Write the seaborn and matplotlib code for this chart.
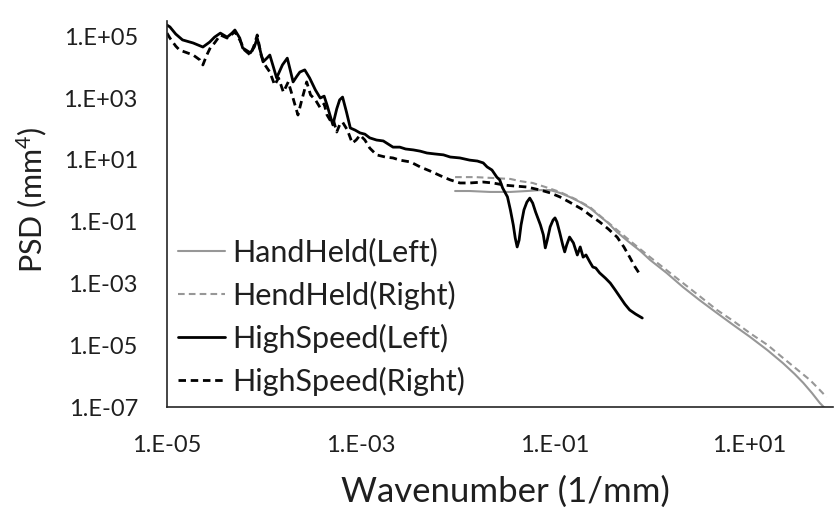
import numpy as np
import pandas as pd
import matplotlib
matplotlib.use("Agg")
import matplotlib.pyplot as plt
import seaborn as sns

# ---- data (log10 of wavenumber [1/mm] and log10 of PSD [mm^4]) ----
hs_left_logk = [-5.00, -4.97, -4.91, -4.84, -4.73, -4.63, -4.56, -4.51, -4.45, -4.38, -4.33, -4.30,
                -4.25, -4.22, -4.14, -4.10, -4.07, -4.04, -4.01, -3.97, -3.94, -3.90, -3.87, -3.81,
                -3.76, -3.73, -3.70, -3.66, -3.63, -3.58, -3.53, -3.47, -3.42, -3.38, -3.35, -3.32,
                -3.29, -3.25, -3.22, -3.19, -3.15, -3.11, -3.06, -3.01, -2.96, -2.91, -2.84, -2.77,
                -2.72, -2.67, -2.60, -2.54, -2.46, -2.39, -2.32, -2.24, -2.15, -2.08, -1.98, -1.88,
                -1.80, -1.74, -1.70, -1.65, -1.60, -1.57, -1.54, -1.49, -1.46, -1.43, -1.41, -1.39,
                -1.37, -1.35, -1.32, -1.29, -1.26, -1.23, -1.20, -1.15, -1.12, -1.10, -1.08, -1.05,
                -1.02, -1.00, -0.98, -0.95, -0.92, -0.90, -0.88, -0.85, -0.81, -0.77, -0.74, -0.71,
                -0.68, -0.64, -0.61, -0.58, -0.54, -0.48, -0.43, -0.38, -0.33, -0.28, -0.23, -0.17,
                -0.10]
hs_left_logpsd = [5.36, 5.30, 5.07, 4.88, 4.78, 4.65, 4.81, 4.97, 5.10, 4.97, 5.10, 5.20,
                  4.94, 4.62, 4.46, 4.65, 4.94, 4.55, 4.17, 4.29, 4.39, 3.97, 3.65, 4.07,
                  4.29, 3.91, 3.52, 3.71, 3.84, 3.91, 3.65, 3.26, 3.00, 3.06, 2.77, 2.45,
                  2.13, 2.65, 2.94, 3.03, 2.55, 2.03, 1.96, 1.87, 1.83, 1.71, 1.64, 1.61,
                  1.51, 1.41, 1.41, 1.35, 1.32, 1.28, 1.22, 1.19, 1.16, 1.09, 1.06, 0.99,
                  0.96, 0.90, 0.77, 0.67, 0.44, 0.35, 0.09, -0.20, -0.62, -1.11, -1.53, -1.82,
                  -1.60, -1.11, -0.62, -0.37, -0.24, -0.40, -0.69, -1.11, -1.43, -1.85, -1.60, -1.17,
                  -0.95, -0.88, -1.01, -1.37, -1.76, -1.98, -1.76, -1.50, -1.69, -2.08, -1.82, -2.15,
                  -2.08, -2.31, -2.47, -2.50, -2.66, -2.83, -2.99, -3.21, -3.44, -3.67, -3.86, -3.99,
                  -4.12]

hs_right_logk = [-5.00, -4.97, -4.91, -4.87, -4.79, -4.73, -4.66, -4.63, -4.59, -4.55, -4.51, -4.45,
                 -4.38, -4.30, -4.25, -4.20, -4.14, -4.10, -4.07, -4.03, -3.99, -3.94, -3.89, -3.85,
                 -3.80, -3.75, -3.71, -3.68, -3.65, -3.61, -3.56, -3.52, -3.47, -3.42, -3.38, -3.35,
                 -3.32, -3.29, -3.25, -3.22, -3.19, -3.14, -3.09, -3.05, -3.01, -2.96, -2.91, -2.84,
                 -2.75, -2.67, -2.60, -2.49, -2.39, -2.29, -2.15, -2.08, -1.98, -1.88, -1.74, -1.64,
                 -1.52, -1.41, -1.29, -1.15, -1.05, -0.95, -0.85, -0.71, -0.64, -0.54, -0.45, -0.36,
                 -0.29, -0.23, -0.18, -0.12]
hs_right_logpsd = [5.10, 4.94, 4.68, 4.55, 4.46, 4.39, 4.23, 4.07, 4.39, 4.65, 4.78, 5.04,
                   4.94, 5.14, 4.88, 4.55, 4.39, 4.72, 5.04, 4.39, 4.07, 3.84, 3.42, 3.65,
                   3.19, 3.52, 3.10, 2.77, 2.45, 2.94, 3.52, 3.10, 2.94, 2.68, 2.81, 2.45,
                   2.29, 2.35, 1.90, 2.13, 2.22, 1.96, 1.54, 1.64, 1.80, 1.64, 1.38, 1.16,
                   1.09, 1.06, 0.99, 0.93, 0.77, 0.64, 0.44, 0.35, 0.25, 0.25, 0.28, 0.25,
                   0.18, 0.15, 0.12, 0.02, -0.07, -0.20, -0.37, -0.62, -0.79, -1.01, -1.24, -1.50,
                   -1.82, -2.15, -2.44, -2.73]

hh_left_logk = [-2.03, -1.88, -1.67, -1.46, -1.29, -1.15, -1.05, -0.95, -0.85, -0.74, -0.64, -0.54,
                -0.45, -0.36, -0.25, -0.12, -0.02, 0.15, 0.32, 0.49, 0.67, 0.84, 1.01, 1.19,
                1.35, 1.47, 1.56, 1.65, 1.73, 1.78]
hh_left_logpsd = [-0.01, -0.01, -0.04, -0.04, -0.01, 0.02, 0.02, -0.07, -0.20, -0.37, -0.56, -0.82,
                  -1.05, -1.34, -1.63, -1.95, -2.24, -2.66, -3.12, -3.54, -3.96, -4.35, -4.73, -5.16,
                  -5.58, -5.93, -6.22, -6.55, -6.87, -7.03]

hh_right_logk = [-2.03, -1.82, -1.64, -1.46, -1.36, -1.23, -1.10, -0.95, -0.79, -0.64, -0.51, -0.36,
                 -0.20, -0.02, 0.15, 0.32, 0.49, 0.67, 0.84, 1.01, 1.19, 1.35, 1.49, 1.63,
                 1.73, 1.80]
hh_right_logpsd = [0.44, 0.44, 0.41, 0.38, 0.31, 0.25, 0.12, -0.04, -0.27, -0.53, -0.88, -1.27,
                   -1.69, -2.15, -2.57, -2.99, -3.41, -3.86, -4.22, -4.61, -4.99, -5.41, -5.77, -6.13,
                   -6.45, -6.68]

series_names = ["HandHeld(Left)", "HendHeld(Right)", "HighSpeed(Left)", "HighSpeed(Right)"]
x_tick_labels = ["1.E-05", "1.E-03", "1.E-01", "1.E+01"]
y_tick_labels = ["1.E-07", "1.E-05", "1.E-03", "1.E-01", "1.E+01", "1.E+03", "1.E+05"]

# ---- styling ----
sns.set_theme(style="white")
plt.rcParams["font.family"] = ["Lato", "DejaVu Sans"]
plt.rcParams["mathtext.default"] = "regular"
txt = "#1f1f1f"

fig = plt.figure(figsize=(8.35, 5.15), dpi=100)
ax = fig.add_axes([0.2, 0.2097, 0.7976, 0.75])

data = [
    (hh_left_logk, hh_left_logpsd, "#979797", 1.5, "-"),
    (hh_right_logk, hh_right_logpsd, "#979797", 1.5, (0, (3.2, 2.0))),
    (hs_left_logk, hs_left_logpsd, "#000000", 2.0, "-"),
    (hs_right_logk, hs_right_logpsd, "#000000", 2.0, (0, (2.7, 1.7))),
]
for name, (lk, lp, col, lw, ls) in zip(series_names, data):
    df = pd.DataFrame({"k": 10 ** np.array(lk), "psd": 10 ** np.array(lp)})
    sns.lineplot(data=df, x="k", y="psd", ax=ax, color=col, lw=lw, linestyle=ls,
                 sort=False, estimator=None, label=name)

ax.set_xscale("log")
ax.set_yscale("log")
ax.set_xlim(1e-5, 10 ** 1.866)
ax.set_ylim(1e-7, 10 ** 5.5)

xt = [10.0 ** e for e in (-5, -3, -1, 1)]
yt = [10.0 ** e for e in (-7, -5, -3, -1, 1, 3, 5)]
ax.set_xticks(xt)
ax.set_xticklabels(x_tick_labels)
ax.set_yticks(yt)
ax.set_yticklabels(y_tick_labels)
ax.minorticks_off()
ax.tick_params(axis="both", length=0, labelsize=17, colors=txt)
ax.tick_params(axis="x", pad=20)
ax.tick_params(axis="y", pad=21)

for s in ("top", "right"):
    ax.spines[s].set_visible(False)
for s in ("left", "bottom"):
    ax.spines[s].set_color("#262626")
    ax.spines[s].set_linewidth(1.2)

ax.set_xlabel("Wavenumber (1/mm)", fontsize=25, color=txt)
ax.set_ylabel("PSD (mm$^{4}$)", fontsize=22, color=txt)
ax.xaxis.set_label_coords(0.508, -0.22)
ax.xaxis.label.set_verticalalignment("center")
ax.yaxis.set_label_coords(-0.203, 0.536)
ax.yaxis.label.set_verticalalignment("center")

leg = ax.legend(loc="upper left", bbox_to_anchor=(0.0165, 0.438), frameon=False,
                fontsize=22, handlelength=1.54, handletextpad=0.23, labelspacing=0.46,
                borderaxespad=0, borderpad=0)
for t in leg.get_texts():
    t.set_color(txt)

fig.savefig("out.png", dpi=100)
